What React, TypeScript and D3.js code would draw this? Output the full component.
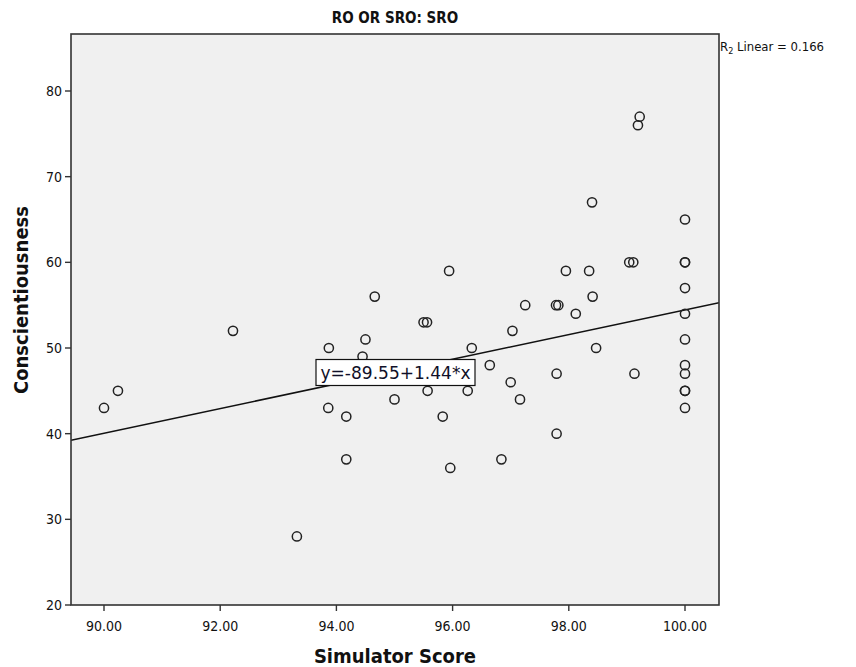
import React from "react";
import * as d3 from "d3";

const title = "RO OR SRO: SRO";
const xLabel = "Simulator Score";
const yLabel = "Conscientiousness";
const xTicks = [90, 92, 94, 96, 98, 100];
const yTicks = [20, 30, 40, 50, 60, 70, 80];
const intercept = -89.55;
const slope = 1.44;
const r2 = "0.166";

const simScore = [
  90.0, 90.24, 92.22, 93.32, 93.87, 93.86, 94.17, 94.17, 94.5, 94.45,
  94.66, 95.5, 95.56, 96.33, 97.03, 96.64, 97.0, 97.16, 95.57, 96.26,
  95.0, 95.83, 95.96, 96.84, 95.94, 97.25, 97.78, 97.82, 98.12, 98.41,
  98.47, 97.79, 99.13, 97.79, 99.22, 99.19, 98.4, 99.04, 99.11, 97.95,
  98.35, 100, 100, 100, 100, 100, 100, 100, 100, 100, 100, 100,
];
const conscient = [
  43, 45, 52, 28, 50, 43, 42, 37, 51, 49,
  56, 53, 53, 50, 52, 48, 46, 44, 45, 45,
  44, 42, 36, 37, 59, 55, 55, 55, 54, 56,
  50, 47, 47, 40, 77, 76, 67, 60, 60, 59,
  59, 65, 60, 60, 57, 54, 51, 48, 47, 45, 45, 43,
];

const W = 856;
const H = 667;
const left = 71;
const right = 719;
const top = 34;
const bottom = 605;

export default function App() {
  const x = d3.scaleLinear().domain([90, 100]).range([104, 685]);
  const y = d3.scaleLinear().domain([20, 80]).range([605, 91]);
  const xMin = x.invert(left);
  const xMax = x.invert(right);
  const line = d3
    .line<number>()
    .x((d) => x(d))
    .y((d) => y(intercept + slope * d));
  const font = "'Liberation Sans Narrow', 'DejaVu Sans Condensed', 'Open Sans', sans-serif";
  const pts = simScore.map((s, i) => ({ s, c: conscient[i] }));
  return (
    <svg width={W} height={H} style={{ position: "absolute", left: 0, top: 0 }} fontFamily={font}>
      <rect x={0} y={0} width={W} height={H} fill="#fff" />
      <text x={395} y={23} textAnchor="middle" fontSize={15} fontWeight="bold" fill="#111">
        {title}
      </text>
      <defs>
        <clipPath id="plotclip">
          <rect x={left} y={top} width={right - left} height={bottom - top} />
        </clipPath>
      </defs>
      <rect x={left} y={top} width={right - left} height={bottom - top} fill="#f0f0f0" />
      <g clipPath="url(#plotclip)">
        <path d={line([xMin, xMax]) || ""} stroke="#111" strokeWidth={1.6} fill="none" />
        {pts.map((p, i) => (
          <circle key={i} cx={x(p.s)} cy={y(p.c)} r={4.6} fill="none" stroke="#222" strokeWidth={1.5} />
        ))}
      </g>
      <rect x={left} y={top} width={right - left} height={bottom - top} fill="none" stroke="#333" strokeWidth={1.6} />
      {yTicks.map((t) => (
        <g key={t}>
          <line x1={left - 6} x2={left} y1={y(t)} y2={y(t)} stroke="#333" strokeWidth={1.4} />
          <text x={left - 9} y={y(t) + 5} textAnchor="end" fontSize={14} fill="#111">
            {t}
          </text>
        </g>
      ))}
      {xTicks.map((t) => (
        <g key={t}>
          <line x1={x(t)} x2={x(t)} y1={bottom} y2={bottom + 6} stroke="#333" strokeWidth={1.4} />
          <text x={x(t)} y={631} textAnchor="middle" fontSize={14} fill="#111">
            {t.toFixed(2)}
          </text>
        </g>
      ))}
      <text x={395} y={663} textAnchor="middle" fontSize={20} fontWeight="bold" fill="#111">
        {xLabel}
      </text>
      <text
        transform={`translate(28, 300) rotate(-90)`}
        textAnchor="middle"
        fontSize={20}
        fontWeight="bold"
        fill="#111"
      >
        {yLabel}
      </text>
      <text x={720} y={51} fontSize={13} fill="#111">
        R<tspan fontSize={9} dy={3}>2</tspan>
        <tspan dy={-3}> Linear = {r2}</tspan>
      </text>
      <rect x={316} y={359.5} width={159} height={26} fill="#fff" stroke="#111" strokeWidth={1.2} />
      <text
        x={395.5}
        y={378.5}
        textAnchor="middle"
        fontSize={17}
        fill="#101028"
        fontFamily="'DejaVu Sans', sans-serif"
        textLength={150}
        lengthAdjust="spacingAndGlyphs"
      >
        {`y=-89.55+1.44*x`}
      </text>
    </svg>
  );
}
